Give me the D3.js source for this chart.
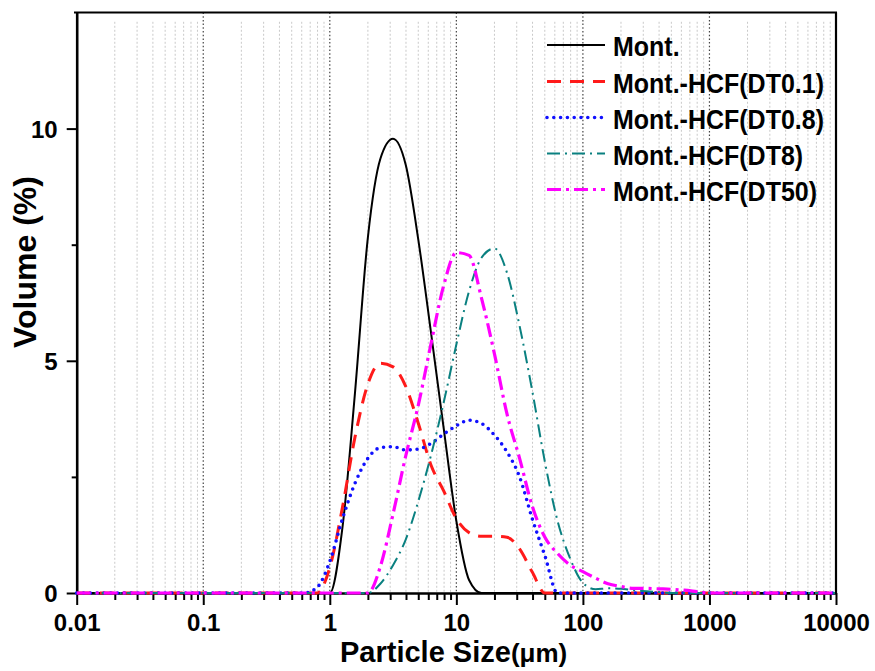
<!DOCTYPE html>
<html>
<head>
<meta charset="utf-8">
<script src="https://cdn.jsdelivr.net/npm/d3@7"></script>
<style>
  html, body { margin: 0; padding: 0; background: #fff; }
  svg { display: block; font-family: "Liberation Sans", Arial, sans-serif; }
</style>
</head>
<body>
<svg id="chart" width="875" height="671"></svg>
<script>
// Particle sizes (µm), 0.1-decade bins
const sizes = [0.01, 0.0126, 0.0158, 0.02, 0.0251, 0.0316, 0.0398, 0.0501, 0.0631, 0.0794,
  0.1, 0.126, 0.158, 0.2, 0.251, 0.316, 0.398, 0.501, 0.631, 0.794,
  1, 1.26, 1.58, 2.0, 2.51, 3.16, 3.98, 5.01, 6.31, 7.94,
  10, 12.6, 15.8, 20, 25.1, 31.6, 39.8, 50.1, 63.1, 79.4,
  100, 126, 158, 200, 251, 316, 398, 501, 631, 794,
  1000, 1259, 1585, 1995, 2512, 3162, 3981, 5012, 6310, 7943, 10000];

const mont = [0,0,0,0,0,0,0,0,0,0, 0,0,0,0,0,0,0,0,0,0,
  0, 1.42, 4.3, 7.66, 9.35, 9.78, 9.22, 7.6, 5.6, 3.55, 1.55, 0.28, 0,
  0,0,0,0,0,0,0,0,0,0,0,0,0,0,0,0,0,0,0,0,0,0,0,0,0,0,0,0];

const dt01 = [0,0,0,0,0,0,0,0,0,0, 0,0,0,0,0,0,0,0,0,0,
  0.55, 1.85, 3.35, 4.5, 4.95, 4.87, 4.45, 3.65, 2.75, 2.2, 1.6, 1.3, 1.22, 1.22, 1.2, 0.95, 0.45,
  0,0,0,0,0,0,0,0,0,0,0,0,0,0,0,0,0,0,0,0,0,0,0,0];

const dt08 = [0,0,0,0,0,0,0,0,0,0, 0,0,0,0,0,0,0,0,0,
  0.12, 0.68, 1.6, 2.36, 2.9, 3.13, 3.15, 3.08, 3.1, 3.22, 3.42, 3.6, 3.72, 3.65, 3.4, 3.04, 2.5, 1.6, 0.8,
  0,0,0,0,0,0,0,0,0,0,0,0,0,0,0,0,0,0,0,0,0,0,0];

const dt8 = [0,0,0,0,0,0,0,0,0,0, 0,0,0,0,0,0,0,0,0,0, 0,0,0,0,
  0.2, 0.6, 1.15, 1.98, 2.97, 4.1, 5.35, 6.5, 7.22, 7.42, 6.9, 5.75, 4.35, 2.82, 1.55, 0.74,
  0.22, 0.08, 0.1, 0.09, 0.06, 0.04, 0.02,
  0,0,0,0,0,0,0,0,0,0,0,0,0,0];

const dt50 = [0,0,0,0,0,0,0,0,0,0, 0,0,0,0,0,0,0,0,0,0, 0,0,0,0,
  0.57, 1.7, 2.95, 4.05, 5.37, 6.62, 7.33, 7.27, 6.35, 5.15, 3.86, 2.9, 1.87, 1.2, 0.85, 0.6,
  0.46, 0.32, 0.2, 0.14, 0.1, 0.1, 0.09, 0.08, 0.06, 0.03,
  0,0,0,0,0,0,0,0,0,0,0];

const seriesNames = ["Mont.", "Mont.-HCF(DT0.1)", "Mont.-HCF(DT0.8)", "Mont.-HCF(DT8)", "Mont.-HCF(DT50)"];
const xTickValues = [0.01, 0.1, 1, 10, 100, 1000, 10000];
const xTickLabels = ["0.01", "0.1", "1", "10", "100", "1000", "10000"];
const yTickValues = [0, 5, 10];
const yMinorTicks = [2.5, 7.5];

const styles = [
  { color: "#000000", width: 2,   dash: null,        cap: "butt" },
  { color: "#ff1a1a", width: 3,   dash: "14,9",      cap: "butt" },
  { color: "#1010ff", width: 3.6, dash: "0,6.8",     cap: "round" },
  { color: "#0a8080", width: 2,   dash: "13,5,2,5",  cap: "butt" },
  { color: "#ff00ff", width: 3.2, dash: "14,5,3,5",  cap: "butt" }
];
const seriesData = [mont, dt01, dt08, dt8, dt50];

const svg = d3.select("#chart");
const x = d3.scaleLog().domain([0.01, 10000]).range([76.7, 836]);
const y = d3.scaleLinear().domain([0, 12.5]).range([593, 12.5]);

// minor grid
const minorVals = [];
for (let k = -2; k <= 3; k++) for (let m = 2; m <= 9; m++) minorVals.push(m * Math.pow(10, k));
svg.append("g").selectAll("line").data(minorVals).join("line")
  .attr("x1", d => x(d)).attr("x2", d => x(d))
  .attr("y1", y(12.3)).attr("y2", y(0))
  .attr("stroke", "#c9c9c9").attr("stroke-width", 1).attr("stroke-dasharray", "2,2");
// major grid
svg.append("g").selectAll("line").data([0.1, 1, 10, 100, 1000]).join("line")
  .attr("x1", d => x(d)).attr("x2", d => x(d))
  .attr("y1", y(12.5)).attr("y2", y(0))
  .attr("stroke", "#444").attr("stroke-width", 1.2).attr("stroke-dasharray", "1.5,2.2");

// frame top/right
svg.append("line").attr("x1", 74).attr("x2", 837).attr("y1", y(12.5)).attr("y2", y(12.5))
  .attr("stroke", "#000").attr("stroke-width", 2.2);
svg.append("line").attr("x1", 836).attr("x2", 836).attr("y1", y(12.5)).attr("y2", y(0))
  .attr("stroke", "#000").attr("stroke-width", 2.2);

// y axis
const gy = svg.append("g").attr("transform", `translate(${x(0.01)},0)`)
  .call(d3.axisLeft(y).tickValues(yTickValues).tickSize(10).tickPadding(9).tickSizeOuter(0));
svg.append("g").attr("transform", `translate(${x(0.01)},0)`)
  .call(d3.axisLeft(y).tickValues(yMinorTicks).tickSize(5).tickFormat("").tickSizeOuter(0))
  .call(g => g.select(".domain").remove());
gy.selectAll("text").attr("font-size", 24).attr("font-weight", "bold").attr("fill", "#000")
  .attr("font-family", "Liberation Sans, Arial, sans-serif").attr("dy", "0.36em");

// x axis
const gx = svg.append("g").attr("transform", `translate(0,${y(0)})`)
  .call(d3.axisBottom(x).tickValues(xTickValues).tickSize(12)
    .tickFormat((d, i) => xTickLabels[i]).tickSizeOuter(0));
const minorTickVals = minorVals.filter(v => v < 10000);
svg.append("g").attr("transform", `translate(0,${y(0)})`)
  .call(d3.axisBottom(x).tickValues(minorTickVals).tickSize(7).tickFormat("").tickSizeOuter(0))
  .call(g => g.select(".domain").remove());
gx.selectAll("text").attr("font-size", 24).attr("font-weight", "bold").attr("fill", "#000")
  .attr("font-family", "Liberation Sans, Arial, sans-serif").attr("y", 38).attr("dy", 0);

svg.selectAll(".domain").attr("stroke", "#000").attr("stroke-width", 2.6);
svg.selectAll(".tick line").attr("stroke", "#000").attr("stroke-width", 2);

// lines
const line = d3.line().x(d => x(d[0])).y(d => y(d[1])).curve(d3.curveMonotoneX);
seriesData.forEach((vals, i) => {
  const st = styles[i];
  svg.append("path")
    .datum(sizes.map((s, j) => [s, vals[j]]))
    .attr("d", line)
    .attr("fill", "none")
    .attr("stroke", st.color)
    .attr("stroke-width", st.width)
    .attr("stroke-linecap", st.cap)
    .attr("stroke-linejoin", "round")
    .attr("stroke-dasharray", st.dash);
});

// legend
const legY = [45, 81.5, 117.5, 153.5, 189.5];
seriesNames.forEach((name, i) => {
  const st = styles[i];
  svg.append("line").attr("x1", 547).attr("x2", 605).attr("y1", legY[i]).attr("y2", legY[i])
    .attr("stroke", st.color).attr("stroke-width", st.width)
    .attr("stroke-linecap", st.cap).attr("stroke-dasharray", st.dash);
  svg.append("text")
    .attr("transform", `translate(613,${legY[i] + 11}) scale(1,1.12)`)
    .attr("font-size", 25).attr("font-weight", "bold").attr("fill", "#000")
    .text(name);
});

// axis titles
const xt = svg.append("text").attr("x", 340).attr("y", 662)
  .attr("font-weight", "bold").attr("fill", "#000");
xt.append("tspan").attr("font-size", 29).text("Particle Size");
xt.append("tspan").attr("font-size", 26).text("(μm)");

svg.append("text")
  .attr("transform", "translate(36,262) rotate(-90)")
  .attr("text-anchor", "middle")
  .attr("font-size", 32).attr("font-weight", "bold").attr("fill", "#000")
  .text("Volume (%)");
</script>
</body>
</html>
